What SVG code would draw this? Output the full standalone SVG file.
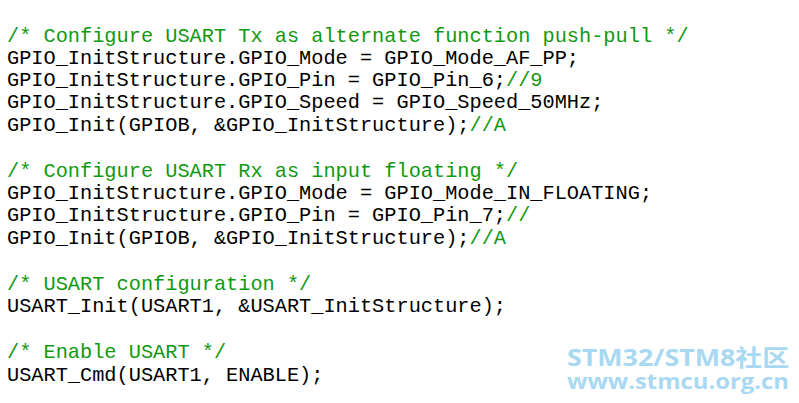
<svg xmlns="http://www.w3.org/2000/svg" width="799" height="403" viewBox="0 0 799 403">
<style>
.c{font-family:"Liberation Mono",monospace;font-size:20.3px;fill:#000;white-space:pre}
.g{fill:#119911}
.w{font-family:"Open Sans","Noto Sans CJK SC",sans-serif;font-weight:bold;fill:#a9d9f2}
</style>
<rect width="799" height="403" fill="#fff"/>
<g id="code">
<text class="c g" x="7" y="42">/* Configure USART Tx as alternate function push-pull */</text>
<text class="c" x="7" y="64">GPIO_InitStructure.GPIO_Mode = GPIO_Mode_AF_PP;</text>
<text class="c" x="7" y="86">GPIO_InitStructure.GPIO_Pin = GPIO_Pin_6;<tspan class="g">//9</tspan></text>
<text class="c" x="7" y="108">GPIO_InitStructure.GPIO_Speed = GPIO_Speed_50MHz;</text>
<text class="c" x="7" y="131">GPIO_Init(GPIOB, &amp;GPIO_InitStructure);<tspan class="g">//A</tspan></text>
<text class="c g" x="7" y="177">/* Configure USART Rx as input floating */</text>
<text class="c" x="7" y="199">GPIO_InitStructure.GPIO_Mode = GPIO_Mode_IN_FLOATING;</text>
<text class="c" x="7" y="221">GPIO_InitStructure.GPIO_Pin = GPIO_Pin_7;<tspan class="g">//</tspan></text>
<text class="c" x="7" y="244">GPIO_Init(GPIOB, &amp;GPIO_InitStructure);<tspan class="g">//A</tspan></text>
<text class="c g" x="7" y="290">/* USART configuration */</text>
<text class="c" x="7" y="312">USART_Init(USART1, &amp;USART_InitStructure);</text>
<text class="c g" x="7" y="358">/* Enable USART */</text>
<text class="c" x="7" y="381">USART_Cmd(USART1, ENABLE);</text>
</g>
<g id="watermark">
<text class="w" x="567" y="366" font-size="23" textLength="222" lengthAdjust="spacingAndGlyphs">STM32/STM8社区</text>
<text class="w" x="567" y="389" font-size="21" textLength="222" lengthAdjust="spacingAndGlyphs">www.stmcu.org.cn</text>
</g>
</svg>
